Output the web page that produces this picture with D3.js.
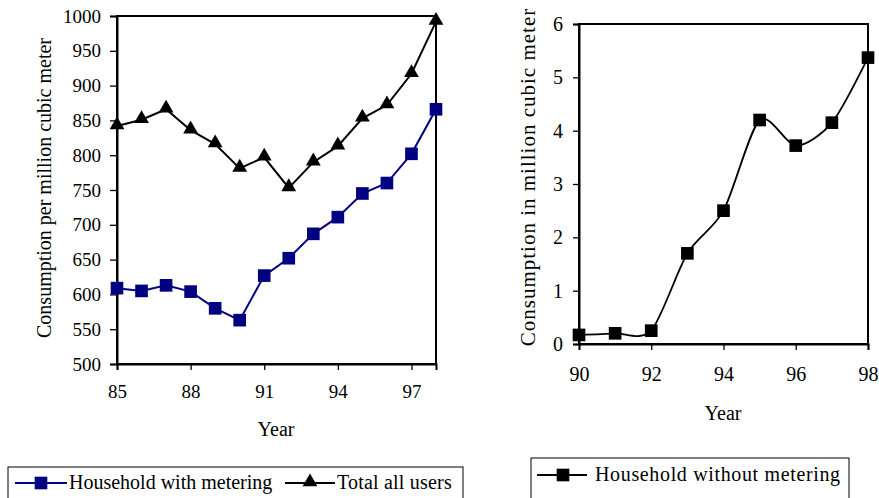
<!DOCTYPE html>
<html>
<head>
<meta charset="utf-8">
<script src="https://cdn.jsdelivr.net/npm/d3@7"></script>
<style>
  body { margin: 0; background: #fff; }
  svg { display: block; }
  text { font-family: "Liberation Serif", "Times New Roman", serif; fill: #000; }
</style>
</head>
<body>
<div id="chart"></div>
<script>
// Left chart data
var yearsLeft = [85, 86, 87, 88, 89, 90, 91, 92, 93, 94, 95, 96, 97, 98];
var withMetering = [609, 605, 613, 604, 580, 563, 627, 652, 687, 711, 745, 760, 802, 866];
var totalUsers = [842, 851, 866, 836, 816, 781, 797, 753, 790, 813, 853, 872, 917, 992];
var leftXTicks = [85, 88, 91, 94, 97];
var leftYTicks = [500, 550, 600, 650, 700, 750, 800, 850, 900, 950, 1000];

// Right chart data
var yearsRight = [90, 91, 92, 93, 94, 95, 96, 97, 98];
var withoutMetering = [0.17, 0.2, 0.25, 1.7, 2.5, 4.2, 3.72, 4.15, 5.37];
var rightXTicks = [90, 92, 94, 96, 98];
var rightYTicks = [0, 1, 2, 3, 4, 5, 6];

var W = 879, H = 498;
var navy = "#000080";
var fs = "19px";

var svg = d3.select("#chart")
    .append("svg")
    .attr("width", W)
    .attr("height", H);

// ---------- left chart ----------
var L = {x0: 117, x1: 436, y0: 16, y1: 364};

var xL = d3.scaleLinear().domain([85, 98]).range([L.x0, L.x1]);
var yL = d3.scaleLinear().domain([500, 1000]).range([L.y1, L.y0]);

var gL = svg.append("g");

// frame
gL.append("rect")
    .attr("x", L.x0).attr("y", L.y0)
    .attr("width", L.x1 - L.x0).attr("height", L.y1 - L.y0)
    .attr("fill", "none").attr("stroke", "#000").attr("stroke-width", 2);

var axL = gL.append("g")
    .attr("transform", "translate(0," + L.y1 + ")")
    .call(d3.axisBottom(xL).tickValues(leftXTicks).tickSize(6).tickPadding(15).tickFormat(d3.format("d")));
var ayL = gL.append("g")
    .attr("transform", "translate(" + L.x0 + ",0)")
    .call(d3.axisLeft(yL).tickValues(leftYTicks).tickSize(7).tickPadding(9).tickFormat(d3.format("d")));

[axL, ayL].forEach(function(a) {
    a.select(".domain").attr("stroke-width", 2);
    a.selectAll(".tick line").attr("stroke-width", 1.3);
    a.selectAll("text").style("font-size", fs).style("font-family", "Liberation Serif");
});

var lineTot = d3.line()
    .x(function(d, i) { return xL(yearsLeft[i]); })
    .y(function(d) { return yL(d); });

gL.append("path")
    .datum(totalUsers)
    .attr("d", lineTot)
    .attr("fill", "none").attr("stroke", "#000").attr("stroke-width", 2);

gL.append("path")
    .datum(withMetering)
    .attr("d", lineTot)
    .attr("fill", "none").attr("stroke", navy).attr("stroke-width", 2);

var tri = d3.symbol().type(d3.symbolTriangle).size(95);
var sq = d3.symbol().type(d3.symbolSquare).size(160);

gL.selectAll(".tri")
    .data(totalUsers)
    .enter()
    .append("path")
    .attr("d", tri)
    .attr("transform", function(d, i) { return "translate(" + xL(yearsLeft[i]) + "," + (yL(d) - 1) + ")"; })
    .attr("fill", "#000");

gL.selectAll(".sq")
    .data(withMetering)
    .enter()
    .append("path")
    .attr("d", sq)
    .attr("transform", function(d, i) { return "translate(" + xL(yearsLeft[i]) + "," + yL(d) + ")"; })
    .attr("fill", navy);

gL.append("text")
    .attr("x", 276).attr("y", 436)
    .attr("text-anchor", "middle")
    .style("font-size", "20px")
    .text("Year");

gL.append("text")
    .attr("transform", "translate(51,188) rotate(-90)")
    .attr("text-anchor", "middle")
    .style("font-size", "20px")
    .text("Consumption per million cubic meter");

// left legend
var lg = svg.append("g");
lg.append("rect")
    .attr("x", 8).attr("y", 467).attr("width", 455).attr("height", 45)
    .attr("fill", "none").attr("stroke", "#000").attr("stroke-width", 1);
lg.append("line").attr("x1", 15).attr("x2", 67).attr("y1", 483).attr("y2", 483)
    .attr("stroke", navy).attr("stroke-width", 2);
lg.append("path").attr("d", sq).attr("transform", "translate(41,483)").attr("fill", navy);
lg.append("text").attr("x", 69).attr("y", 489).style("font-size", "20px").text("Household with metering");
lg.append("line").attr("x1", 285).attr("x2", 335).attr("y1", 483).attr("y2", 483)
    .attr("stroke", "#000").attr("stroke-width", 2);
lg.append("path").attr("d", tri).attr("transform", "translate(310,482)").attr("fill", "#000");
lg.append("text").attr("x", 337).attr("y", 489).style("font-size", "20px").style("letter-spacing", "0.2px").text("Total all users");

// ---------- right chart ----------
var R = {x0: 579, x1: 868, y0: 24, y1: 344};

var xR = d3.scaleLinear().domain([90, 98]).range([R.x0, R.x1]);
var yR = d3.scaleLinear().domain([0, 6]).range([R.y1, R.y0]);

var gR = svg.append("g");

gR.append("rect")
    .attr("x", R.x0).attr("y", R.y0)
    .attr("width", R.x1 - R.x0).attr("height", R.y1 - R.y0)
    .attr("fill", "none").attr("stroke", "#000").attr("stroke-width", 2);

var axR = gR.append("g")
    .attr("transform", "translate(0," + R.y1 + ")")
    .call(d3.axisBottom(xR).tickValues(rightXTicks).tickSize(6).tickPadding(17).tickFormat(d3.format("d")));
var ayR = gR.append("g")
    .attr("transform", "translate(" + R.x0 + ",0)")
    .call(d3.axisLeft(yR).tickValues(rightYTicks).tickSize(6).tickPadding(10).tickFormat(d3.format("d")));

[axR, ayR].forEach(function(a) {
    a.select(".domain").attr("stroke-width", 2);
    a.selectAll(".tick line").attr("stroke-width", 1.3);
    a.selectAll("text").style("font-size", "20px").style("font-family", "Liberation Serif");
});

var lineR = d3.line()
    .x(function(d, i) { return xR(yearsRight[i]); })
    .y(function(d) { return yR(d); })
    .curve(d3.curveCardinal.tension(0.2));

gR.append("path")
    .datum(withoutMetering)
    .attr("d", lineR)
    .attr("fill", "none").attr("stroke", "#000").attr("stroke-width", 1.8);

gR.selectAll(".sq")
    .data(withoutMetering)
    .enter()
    .append("path")
    .attr("d", sq)
    .attr("transform", function(d, i) { return "translate(" + xR(yearsRight[i]) + "," + yR(d) + ")"; })
    .attr("fill", "#000");

gR.append("text")
    .attr("x", 723).attr("y", 420)
    .attr("text-anchor", "middle")
    .style("font-size", "20px")
    .text("Year");

gR.append("text")
    .attr("transform", "translate(535,177) rotate(-90)")
    .attr("text-anchor", "middle")
    .style("font-size", "21px")
    .style("letter-spacing", "1px")
    .text("Consumption in million cubic meter");

// right legend
var rg = svg.append("g");
rg.append("rect")
    .attr("x", 531).attr("y", 458).attr("width", 318).attr("height", 50)
    .attr("fill", "none").attr("stroke", "#000").attr("stroke-width", 1);
rg.append("line").attr("x1", 537).attr("x2", 587).attr("y1", 475).attr("y2", 475)
    .attr("stroke", "#000").attr("stroke-width", 2);
rg.append("path").attr("d", sq).attr("transform", "translate(563,475)").attr("fill", "#000");
rg.append("text").attr("x", 595).attr("y", 481).style("font-size", "20px").style("letter-spacing", "0.65px").text("Household without metering");
</script>
</body>
</html>
